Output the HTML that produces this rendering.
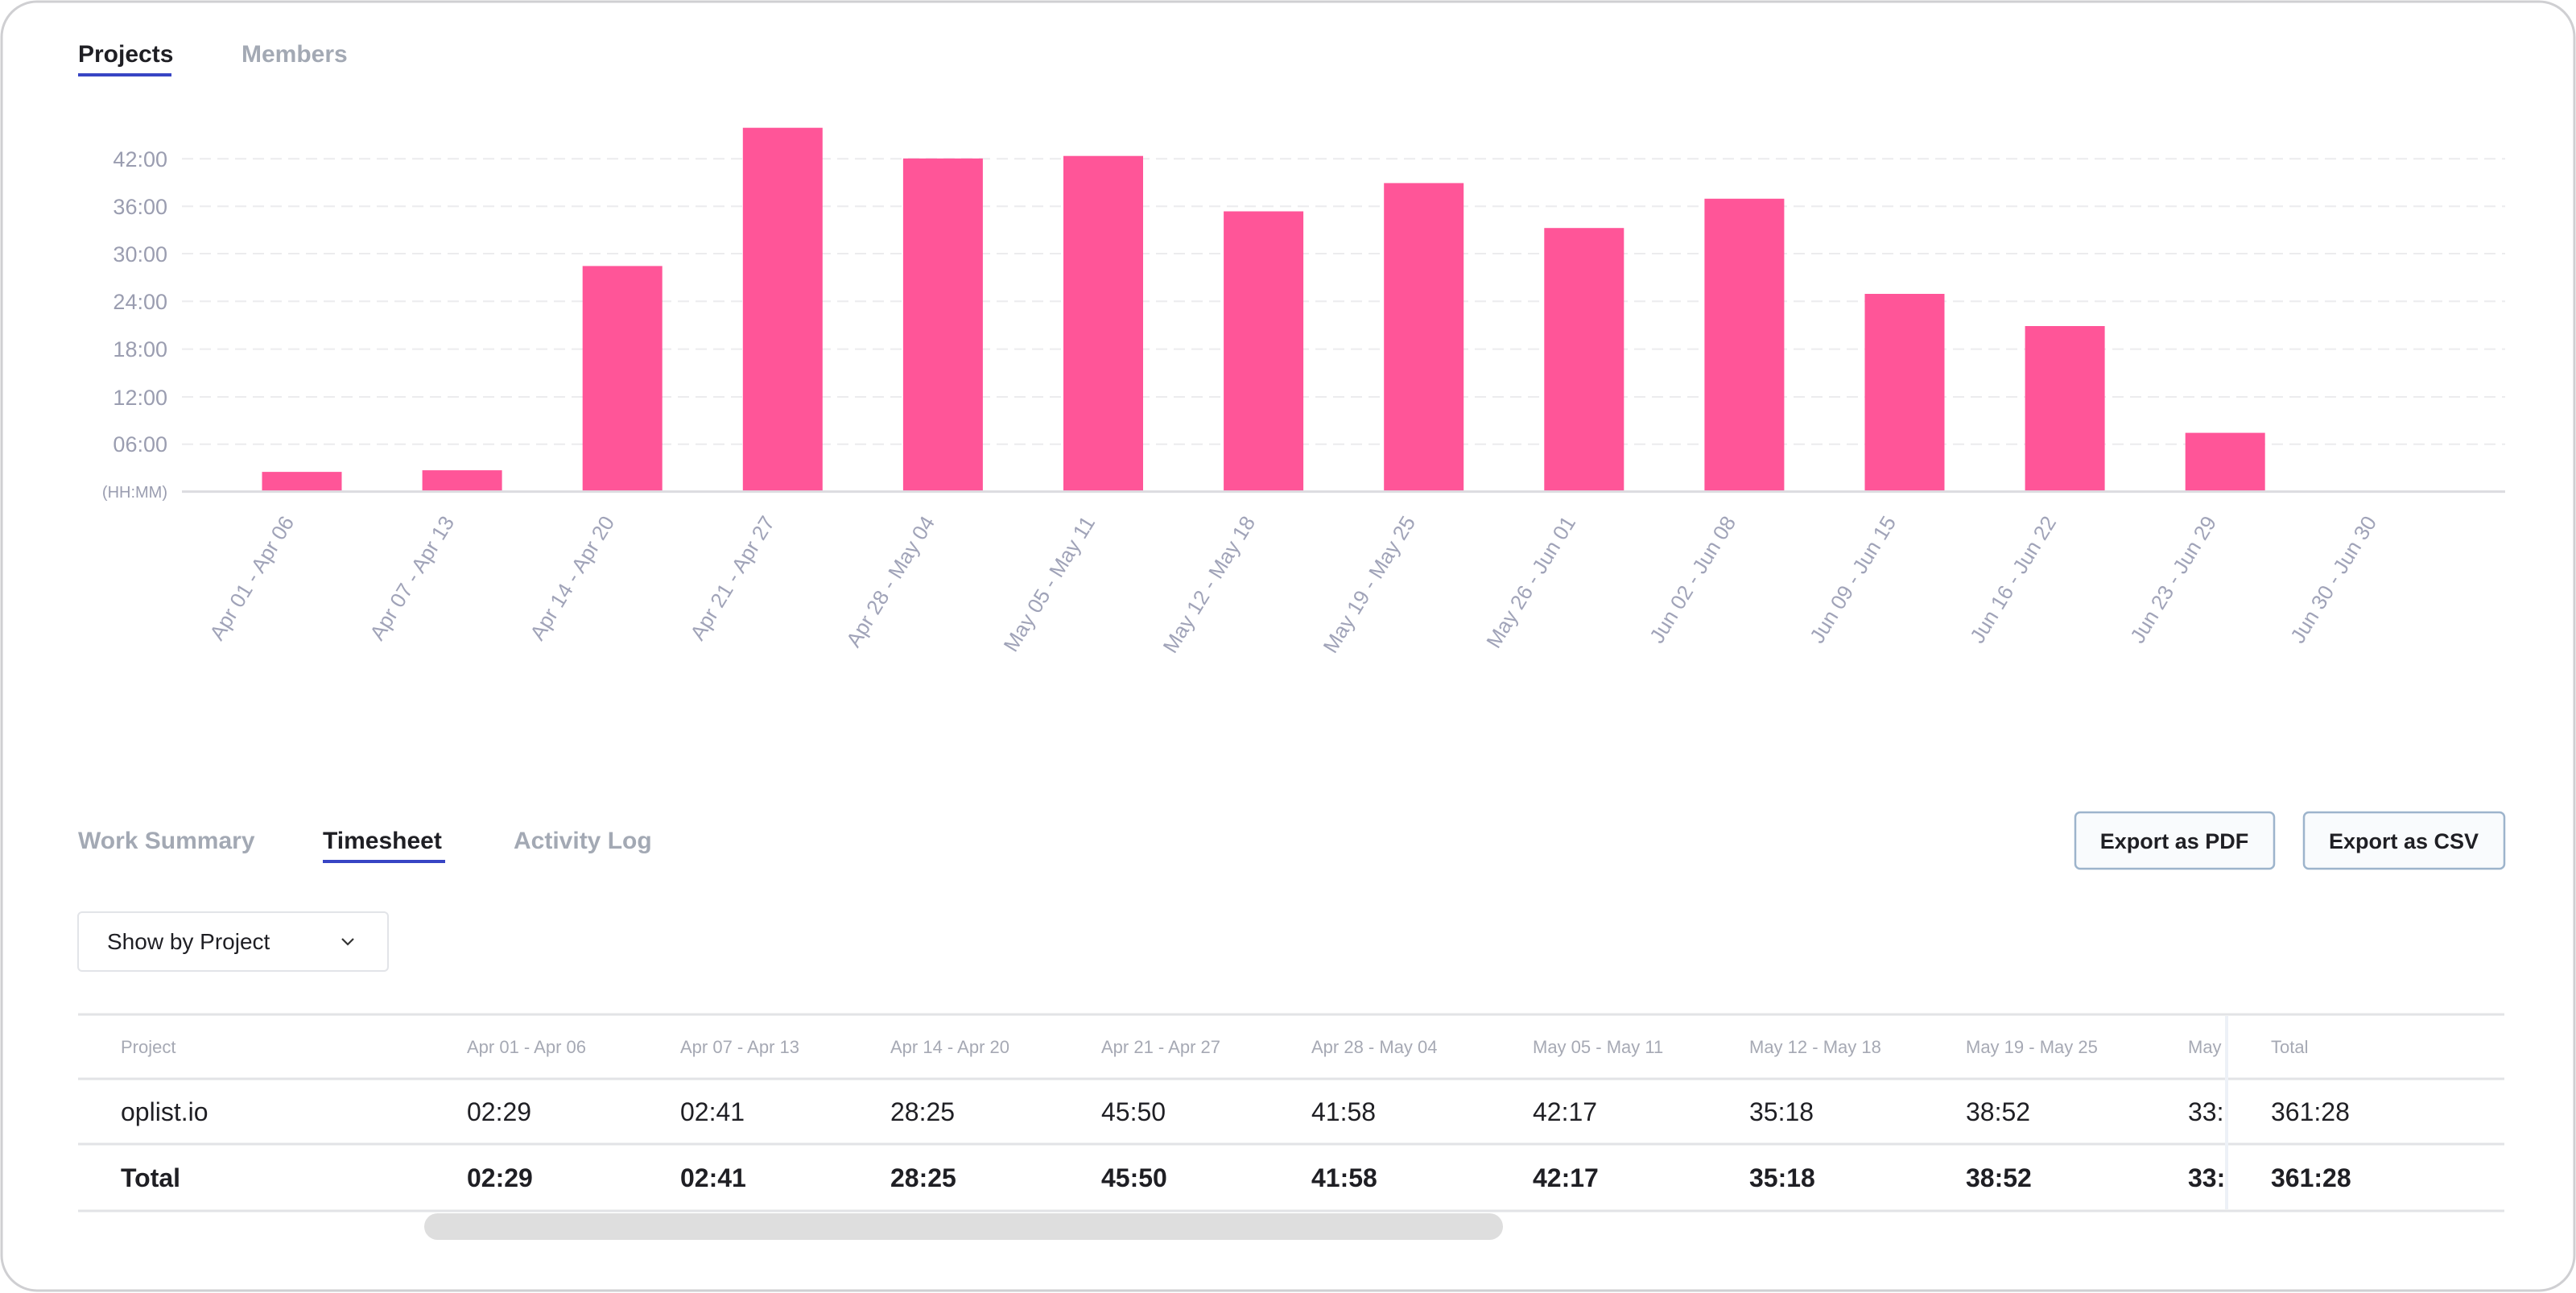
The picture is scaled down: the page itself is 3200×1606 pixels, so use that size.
<!DOCTYPE html>
<html><head><meta charset="utf-8"><style>
html,body{margin:0;padding:0;background:#fff;}
svg{display:block;font-family:"Liberation Sans",sans-serif;}
</style></head><body>
<svg width="3200" height="1606" viewBox="0 0 3200 1606" xmlns="http://www.w3.org/2000/svg">
<rect x="2" y="2" width="3196" height="1601" rx="44" fill="#fff" stroke="#cfcfd2" stroke-width="3"/>
<text x="97" y="77" font-size="30" font-weight="bold" fill="#1f1f24">Projects</text>
<rect x="97" y="91" width="116" height="4" fill="#3845c4"/>
<text x="300" y="77" font-size="30" font-weight="bold" fill="#a3a9b4">Members</text>
<g stroke="#ececee" stroke-width="2" stroke-dasharray="14 8">
<line x1="226" y1="197.3" x2="3112" y2="197.3"/>
<line x1="226" y1="256.2" x2="3112" y2="256.2"/>
<line x1="226" y1="315" x2="3112" y2="315"/>
<line x1="226" y1="374.3" x2="3112" y2="374.3"/>
<line x1="226" y1="433.6" x2="3112" y2="433.6"/>
<line x1="226" y1="493" x2="3112" y2="493"/>
<line x1="226" y1="551.8" x2="3112" y2="551.8"/>
</g>
<g font-size="27" fill="#9a9db0" text-anchor="end">
<text x="208" y="207">42:00</text>
<text x="208" y="266">36:00</text>
<text x="208" y="325">30:00</text>
<text x="208" y="384">24:00</text>
<text x="208" y="443">18:00</text>
<text x="208" y="503">12:00</text>
<text x="208" y="561">06:00</text>
<text x="208" y="618" font-size="20">(HH:MM)</text>
</g>
<g fill="#ff5598">
<rect x="325.5" y="586.1" width="99" height="24.5"/>
<rect x="524.6" y="584.1" width="99" height="26.5"/>
<rect x="723.7" y="330.4" width="99" height="280.2"/>
<rect x="922.8" y="158.7" width="99" height="451.9"/>
<rect x="1121.9" y="196.8" width="99" height="413.8"/>
<rect x="1321" y="193.7" width="99" height="416.9"/>
<rect x="1520.1" y="262.5" width="99" height="348.1"/>
<rect x="1719.2" y="227.4" width="99" height="383.2"/>
<rect x="1918.3" y="283.2" width="99" height="327.4"/>
<rect x="2117.4" y="246.8" width="99" height="363.8"/>
<rect x="2316.5" y="365" width="99" height="245.6"/>
<rect x="2515.6" y="405" width="99" height="205.6"/>
<rect x="2714.7" y="537.6" width="99" height="73"/>
</g>
<line x1="226" y1="610.6" x2="3112" y2="610.6" stroke="#dcdce0" stroke-width="3"/>
<g font-size="26" fill="#a0a3b8" text-anchor="end">
<text x="366" y="648" transform="rotate(-58.5 366 648)">Apr 01 - Apr 06</text>
<text x="565" y="648" transform="rotate(-58.5 565 648)">Apr 07 - Apr 13</text>
<text x="764" y="648" transform="rotate(-58.5 764 648)">Apr 14 - Apr 20</text>
<text x="963" y="648" transform="rotate(-58.5 963 648)">Apr 21 - Apr 27</text>
<text x="1162" y="648" transform="rotate(-58.5 1162 648)">Apr 28 - May 04</text>
<text x="1361" y="648" transform="rotate(-58.5 1361 648)">May 05 - May 11</text>
<text x="1560" y="648" transform="rotate(-58.5 1560 648)">May 12 - May 18</text>
<text x="1759" y="648" transform="rotate(-58.5 1759 648)">May 19 - May 25</text>
<text x="1958" y="648" transform="rotate(-58.5 1958 648)">May 26 - Jun 01</text>
<text x="2157" y="648" transform="rotate(-58.5 2157 648)">Jun 02 - Jun 08</text>
<text x="2356" y="648" transform="rotate(-58.5 2356 648)">Jun 09 - Jun 15</text>
<text x="2555" y="648" transform="rotate(-58.5 2555 648)">Jun 16 - Jun 22</text>
<text x="2754" y="648" transform="rotate(-58.5 2754 648)">Jun 23 - Jun 29</text>
<text x="2953" y="648" transform="rotate(-58.5 2953 648)">Jun 30 - Jun 30</text>
</g>
<g font-size="30" font-weight="bold">
<text x="97" y="1054" fill="#a3a9b4">Work Summary</text>
<text x="401" y="1054" fill="#1f1f24">Timesheet</text>
<text x="638" y="1054" fill="#a3a9b4">Activity Log</text>
</g>
<rect x="401" y="1068" width="152" height="4" fill="#3845c4"/>
<rect x="2578" y="1009" width="247" height="70" rx="6" fill="#f9fbfd" stroke="#9db4cc" stroke-width="2.5"/>
<rect x="2862" y="1009" width="249" height="70" rx="6" fill="#f9fbfd" stroke="#9db4cc" stroke-width="2.5"/>
<g font-size="27" font-weight="bold" fill="#1f1f24" text-anchor="middle">
<text x="2701" y="1054">Export as PDF</text>
<text x="2986" y="1054">Export as CSV</text>
</g>
<rect x="97" y="1133" width="385" height="73" rx="5" fill="#fff" stroke="#e2e4e8" stroke-width="2"/>
<text x="133" y="1179" font-size="28" fill="#1f1f24">Show by Project</text>
<path d="M425 1166 L432 1173 L439 1166" fill="none" stroke="#333" stroke-width="2.2"/>
<g font-size="22" fill="#a6a9b4">
<text x="150" y="1308">Project</text>
<text x="580" y="1308">Apr 01 - Apr 06</text>
<text x="845" y="1308">Apr 07 - Apr 13</text>
<text x="1106" y="1308">Apr 14 - Apr 20</text>
<text x="1368" y="1308">Apr 21 - Apr 27</text>
<text x="1629" y="1308">Apr 28 - May 04</text>
<text x="1904" y="1308">May 05 - May 11</text>
<text x="2173" y="1308">May 12 - May 18</text>
<text x="2442" y="1308">May 19 - May 25</text>
<text x="2718" y="1308">May</text>
</g>
<g font-size="32" fill="#1f1f24">
<text x="150" y="1392">oplist.io</text>
<text x="580" y="1392">02:29</text>
<text x="845" y="1392">02:41</text>
<text x="1106" y="1392">28:25</text>
<text x="1368" y="1392">45:50</text>
<text x="1629" y="1392">41:58</text>
<text x="1904" y="1392">42:17</text>
<text x="2173" y="1392">35:18</text>
<text x="2442" y="1392">38:52</text>
<text x="2718" y="1392">33:</text>
</g>
<g font-size="32" font-weight="bold" fill="#1f1f24">
<text x="150" y="1474">Total</text>
<text x="580" y="1474">02:29</text>
<text x="845" y="1474">02:41</text>
<text x="1106" y="1474">28:25</text>
<text x="1368" y="1474">45:50</text>
<text x="1629" y="1474">41:58</text>
<text x="1904" y="1474">42:17</text>
<text x="2173" y="1474">35:18</text>
<text x="2442" y="1474">38:52</text>
<text x="2718" y="1474">33:</text>
</g>
<rect x="2766" y="1262" width="50" height="240" fill="#fff"/>
<text x="2821" y="1308" font-size="22" fill="#a6a9b4">Total</text>
<text x="2821" y="1392" font-size="32" fill="#1f1f24">361:28</text>
<text x="2821" y="1474" font-size="32" font-weight="bold" fill="#1f1f24">361:28</text>
<g stroke="#e2e3e6" stroke-width="3">
<line x1="97" y1="1260" x2="3111" y2="1260"/>
<line x1="97" y1="1340" x2="3111" y2="1340"/>
<line x1="97" y1="1421" x2="3111" y2="1421"/>
<line x1="97" y1="1504" x2="3111" y2="1504"/>
</g>
<line x1="2766" y1="1262" x2="2766" y2="1502" stroke="#edf1f7" stroke-width="4"/>
<rect x="527" y="1507" width="1340" height="33" rx="16.5" fill="#dedede"/>
</svg>
</body></html>
